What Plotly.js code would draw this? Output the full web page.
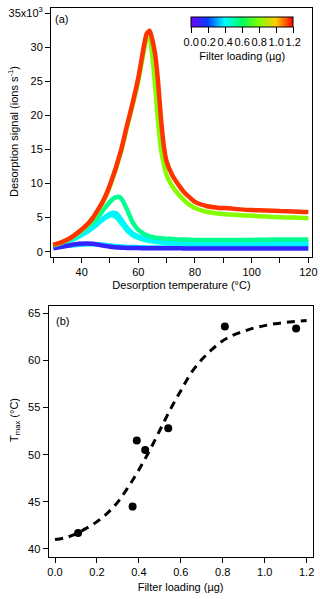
<!DOCTYPE html>
<html>
<head>
<meta charset="utf-8">
<script src="https://cdn.plot.ly/plotly-3.0.1.min.js"></script>
<style>html,body{margin:0;padding:0;background:#fff}#chart{width:320px;height:599px}</style>
</head>
<body>
<div id="chart"></div>
<script>
// ---- Panel (a): desorption signal vs temperature (signal in 10^3 ions/s) ----
var temperature = [30,33,36,39,42,44,46,48,50,51,52,53,54,56,58,60,62,63,64,65,66,67,68,69,70,72,74,76,78,80,84,88,92,96,100,105,110,115,120];
var loadings = [0.43, 0.39, 0.37, 0.11, 0.54, 0.81, 1.15];
var sig_043 = [0.8,1.15,1.6,2.2,2.9,3.5,4.2,4.85,5.3,5.3,5.1,4.7,4.2,3.1,2.4,2.0,1.75,1.65,1.55,1.5,1.45,1.4,1.35,1.3,1.28,1.22,1.2,1.18,1.15,1.15,1.12,1.1,1.1,1.1,1.1,1.1,1.1,1.1,1.1];
var sig_039 = [0.85,1.2,1.7,2.3,3.0,3.6,4.3,5.0,5.55,5.7,5.65,5.3,4.7,3.5,2.7,2.25,2.0,1.9,1.8,1.72,1.65,1.6,1.55,1.5,1.48,1.42,1.4,1.38,1.36,1.35,1.33,1.32,1.3,1.3,1.3,1.3,1.3,1.3,1.3];
var sig_037 = [0.7,0.8,0.9,1.0,1.08,1.1,1.08,1.0,0.9,0.85,0.82,0.78,0.75,0.7,0.68,0.65,0.63,0.62,0.62,0.61,0.6,0.6,0.6,0.6,0.6,0.6,0.6,0.6,0.6,0.6,0.6,0.6,0.6,0.6,0.6,0.6,0.6,0.6,0.6];
var sig_011 = [0.5,0.7,0.95,1.15,1.2,1.15,1.0,0.85,0.72,0.68,0.64,0.6,0.58,0.55,0.53,0.52,0.51,0.5,0.5,0.5,0.5,0.5,0.5,0.5,0.5,0.49,0.49,0.48,0.48,0.48,0.47,0.47,0.47,0.46,0.46,0.46,0.45,0.45,0.45];
var sig_054 = [0.9,1.3,1.9,2.7,3.7,4.3,5.2,6.3,7.3,7.7,7.95,8.05,7.8,6.2,4.3,3.2,2.6,2.4,2.25,2.15,2.05,2.0,1.95,1.92,1.9,1.85,1.8,1.78,1.75,1.72,1.7,1.7,1.7,1.7,1.72,1.75,1.78,1.8,1.8];
var sig_081 = [0.95,1.35,1.95,2.8,3.9,4.9,6.1,7.6,9.6,10.8,12.0,13.4,14.8,18.2,21.5,25.0,29.5,31.3,31.2,28.5,24.0,19.0,15.0,12.8,11.2,9.6,8.5,7.6,6.9,6.4,5.85,5.6,5.45,5.35,5.25,5.15,5.05,5.0,4.9];
var sig_115 = [1.0,1.4,2.0,2.9,4.0,5.0,6.3,7.8,9.8,11.0,12.2,13.6,15.0,18.5,21.8,25.5,30.2,32.0,32.4,31.0,28.8,24.8,19.5,15.5,13.2,11.2,9.9,8.8,8.0,7.3,6.7,6.45,6.35,6.2,6.1,6.05,5.95,5.9,5.8];
var signals = [sig_043, sig_039, sig_037, sig_011, sig_054, sig_081, sig_115];
var ySigTickVals = [0,5,10,15,20,25,30,35];
var ySigTickText = ['0','5','10','15','20','25','30','35x10<sup>3</sup>'];
var xTempTickVals = [40,60,80,100,120];
var cbTickVals = [0,0.2,0.4,0.6,0.8,1.0,1.2];
var cbTickText = ['0.0','0.2','0.4','0.6','0.8','1.0','1.2'];

// ---- Panel (b): Tmax vs filter loading ----
var loadingPts = [0.11, 0.37, 0.39, 0.43, 0.54, 0.81, 1.15];
var tmaxPts = [41.7, 44.5, 51.5, 50.5, 52.8, 63.6, 63.4];
var fitX = [0,0.05,0.1,0.15,0.2,0.25,0.3,0.35,0.4,0.45,0.5,0.55,0.6,0.65,0.7,0.75,0.8,0.85,0.9,0.95,1.0,1.05,1.1,1.15,1.2];
var fitY = [41.0,41.2,41.6,42.2,42.9,43.8,45.0,46.6,48.4,50.4,52.6,54.8,56.8,58.7,60.1,61.2,62.1,62.7,63.1,63.45,63.7,63.9,64.05,64.15,64.25];
var xLoadTickVals = [0,0.2,0.4,0.6,0.8,1.0,1.2];
var xLoadTickText = ['0.0','0.2','0.4','0.6','0.8','1.0','1.2'];
var yTmaxTickVals = [40,45,50,55,60,65];

// rainbow colour scale (Igor-like)
var cmin = 0, cmax = 1.2;
var rainbow = [[0,'#7000ff'],[0.1667,'#0040ff'],[0.3333,'#00ffff'],[0.5,'#00ff60'],[0.6667,'#80ff00'],[0.8333,'#ffcc00'],[1,'#ff0000']];
function hex2rgb(h){return [parseInt(h.substr(1,2),16),parseInt(h.substr(3,2),16),parseInt(h.substr(5,2),16)];}
function colorFor(v){
  var t=(v-cmin)/(cmax-cmin); t=Math.max(0,Math.min(1,t));
  for(var i=0;i<rainbow.length-1;i++){
    var a=rainbow[i],b=rainbow[i+1];
    if(t<=b[0]){var f=(t-a[0])/(b[0]-a[0]);var ca=hex2rgb(a[1]),cb=hex2rgb(b[1]);
      return 'rgb('+Math.round(ca[0]+(cb[0]-ca[0])*f)+','+Math.round(ca[1]+(cb[1]-ca[1])*f)+','+Math.round(ca[2]+(cb[2]-ca[2])*f)+')';}
  }
  return rainbow[rainbow.length-1][1];
}

var FONT = 'Liberation Sans, Arial, sans-serif';
var traces = [];
for (var i=0;i<signals.length;i++){
  traces.push({type:'scatter',mode:'lines',x:temperature,y:signals[i].map(function(v){return v*1000;}),
    xaxis:'x',yaxis:'y',line:{color:colorFor(loadings[i]),width:4.5,shape:'spline',smoothing:0.6},
    showlegend:false,hoverinfo:'skip'});
}
// colour bar carrier
traces.push({type:'scatter',mode:'markers',x:[-100],y:[-100000],xaxis:'x',yaxis:'y',showlegend:false,hoverinfo:'skip',
  marker:{color:[0],cmin:cmin,cmax:cmax,colorscale:rainbow,showscale:true,size:1,
    colorbar:{orientation:'h',x:0.757,xanchor:'center',y:0.971,yanchor:'top',len:0.32,lenmode:'fraction',thickness:10,
      xpad:0,ypad:0,outlinewidth:1,outlinecolor:'#000',ticks:'outside',ticklen:6,tickwidth:1,tickcolor:'#000',tickangle:0,
      tickvals:cbTickVals,ticktext:cbTickText,tickfont:{family:FONT,size:11,color:'#000'},
      title:{text:'Filter loading (µg)',side:'bottom',font:{family:FONT,size:11,color:'#000'}}}}});
// panel b
traces.push({type:'scatter',mode:'lines',x:fitX,y:fitY,xaxis:'x2',yaxis:'y2',line:{color:'#000',width:3,dash:'8px,6px',shape:'spline'},showlegend:false,hoverinfo:'skip'});
traces.push({type:'scatter',mode:'markers',x:loadingPts,y:tmaxPts,xaxis:'x2',yaxis:'y2',marker:{color:'#000',size:8},showlegend:false,hoverinfo:'skip'});

var axBase = {showgrid:false,zeroline:false,showline:true,linecolor:'#000',linewidth:1,mirror:true,ticks:'outside',ticklen:5,tickwidth:1,tickcolor:'#000',tickfont:{family:FONT,size:11,color:'#000'}};
function ax(o){var r=JSON.parse(JSON.stringify(axBase));for(var k in o)r[k]=o[k];return r;}

var layout = {
  width:320,height:599,margin:{l:0,r:0,t:0,b:0},paper_bgcolor:'#fff',plot_bgcolor:'#fff',
  font:{family:FONT,size:11,color:'#000'},showlegend:false,
  xaxis:ax({domain:[0.1594,0.975],range:[29.19,121.3],tickmode:'array',tickvals:xTempTickVals,anchor:'y',
    minor:{tick0:30,dtick:10,ticks:'outside',ticklen:5,tickwidth:1,tickcolor:'#000',showgrid:false},
    title:{text:'Desorption temperature (°C)',font:{family:FONT,size:11,color:'#000'},standoff:4}}),
  yaxis:ax({domain:[0.571,0.9866],range:[-780,35730],tickmode:'array',tickvals:ySigTickVals.map(function(v){return v*1000;}),ticktext:ySigTickText,anchor:'x'}),
  xaxis2:ax({domain:[0.1516,0.9772],range:[-0.031,1.229],tickmode:'array',tickvals:xLoadTickVals,ticktext:xLoadTickText,anchor:'y2',
    title:{text:'Filter loading (µg)',font:{family:FONT,size:11,color:'#000'},standoff:6}}),
  yaxis2:ax({domain:[0.0706,0.4896],range:[39.18,65.81],tickmode:'array',tickvals:yTmaxTickVals,anchor:'x2'}),
  annotations:[
    {text:'(a)',xref:'paper',yref:'paper',x:53/320,y:1-19/599,xanchor:'left',yanchor:'middle',showarrow:false,font:{family:FONT,size:11,color:'#000'}},
    {text:'(b)',xref:'paper',yref:'paper',x:54/320,y:1-321/599,xanchor:'left',yanchor:'middle',showarrow:false,font:{family:FONT,size:11,color:'#000'}},
    {text:'Desorption signal (ions s<sup>-1</sup>)',xref:'paper',yref:'paper',x:13/320,y:1-132/599,xanchor:'center',yanchor:'middle',textangle:-90,showarrow:false,font:{family:FONT,size:11,color:'#000'}},
    {text:'T<sub>max</sub> (°C)',xref:'paper',yref:'paper',x:15/320,y:1-420/599,xanchor:'center',yanchor:'middle',textangle:-90,showarrow:false,font:{family:FONT,size:11,color:'#000'}}
  ]
};
Plotly.newPlot('chart',traces,layout,{staticPlot:true,displayModeBar:false});
</script>
</body>
</html>
